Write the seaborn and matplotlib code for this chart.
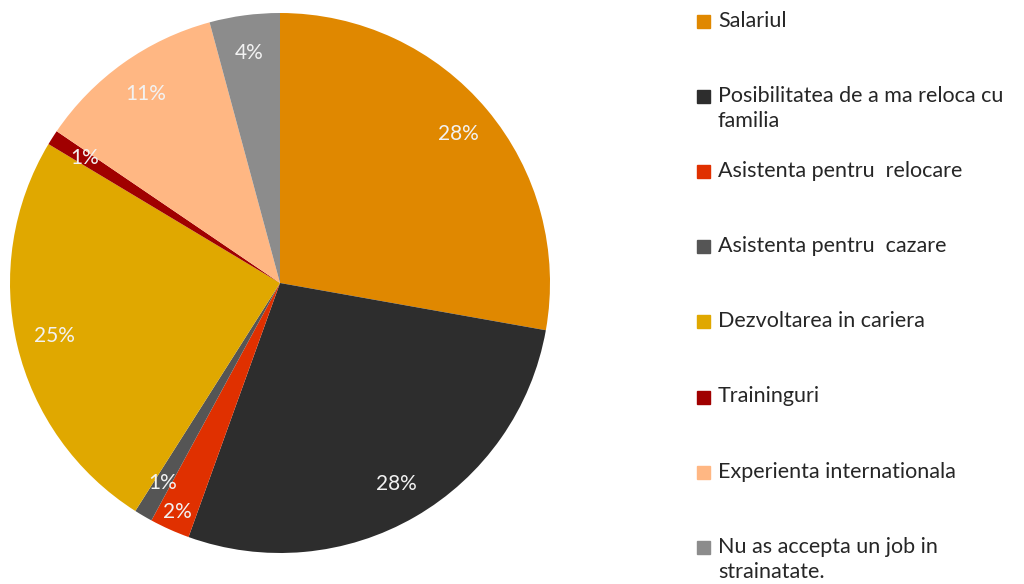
import matplotlib
matplotlib.use("Agg")
import matplotlib.pyplot as plt
import seaborn as sns

# motive pentru a accepta un job in strainatate
categorii = ["Salariul", "Posibilitatea de a ma reloca cu\nfamilia",
             "Asistenta pentru  relocare", "Asistenta pentru  cazare",
             "Dezvoltarea in cariera", "Traininguri",
             "Experienta internationala", "Nu as accepta un job in\nstrainatate."]
procente = [27.8, 27.7, 2.4, 1.1, 24.6, 0.9, 11.3, 4.2]
culori = ["#E08800", "#2D2D2D", "#E03000", "#555555",
          "#E0A800", "#A00000", "#FFB783", "#8C8C8C"]

sns.set_theme(style="white")
plt.rcParams["font.family"] = ["Lato", "DejaVu Sans"]

fig = plt.figure(figsize=(10.24, 5.84), dpi=100)
ax = fig.add_axes([10 / 1024, 31 / 584, 540 / 1024, 540 / 584])

wedges, texts, autotexts = ax.pie(
    procente, colors=culori, startangle=90, counterclock=False,
    autopct="%.0f%%", pctdistance=0.86,
    wedgeprops=dict(linewidth=0),
    textprops=dict(color="#F2F2F2", fontsize=15))
# eticheta de 2% putin mai spre margine, ca in original
x2, y2 = autotexts[2].get_position()
autotexts[2].set_position((x2 * 1.08, y2 * 1.08))
ax.set_xlim(-1, 1)
ax.set_ylim(-1, 1)
ax.set_aspect("equal")
ax.axis("off")

# legenda din dreapta
for i, (cat, col) in enumerate(zip(categorii, culori)):
    y = 1 - (22 + 75.1 * i) / 584
    fig.patches.append(plt.Rectangle((697 / 1024, y - 6 / 584), 13 / 1024, 13 / 584,
                                     transform=fig.transFigure, color=col))
    fig.text(718 / 1024, y + 11 / 584, cat, fontsize=15.5, color="#262626",
             va="top", ha="left", linespacing=1.3)

fig.savefig("out.png", dpi=100, facecolor="white")
